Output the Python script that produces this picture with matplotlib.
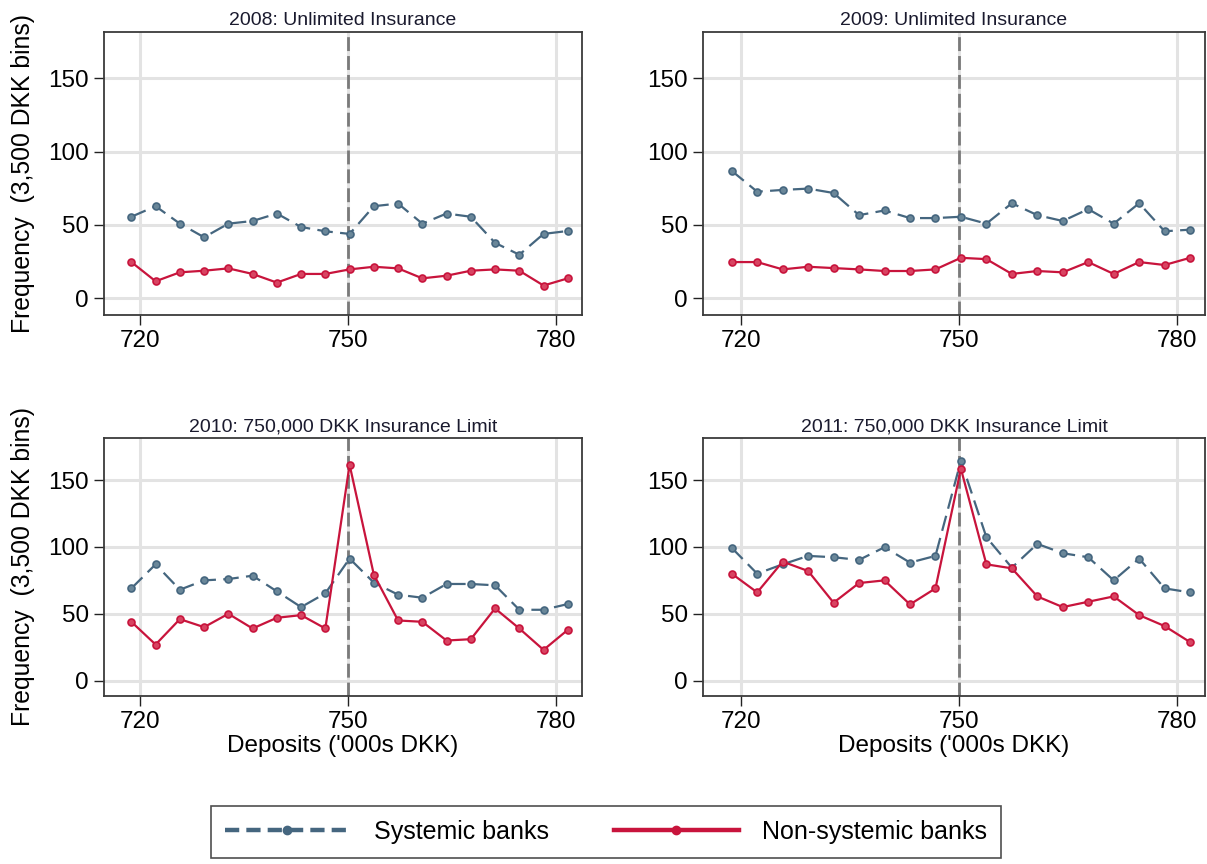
import numpy as np
import matplotlib.pyplot as plt
from matplotlib.lines import Line2D

plt.rcParams['font.family'] = ['Liberation Sans', 'DejaVu Sans']

# Bin midpoints ('000s DKK), 3,500 DKK wide bins
bins = [718.75, 722.25, 725.75, 729.25, 732.75, 736.25, 739.75, 743.25, 746.75,
        750.25, 753.75, 757.25, 760.75, 764.25, 767.75, 771.25, 774.75, 778.25, 781.75]

titles = ['2008: Unlimited Insurance', '2009: Unlimited Insurance',
          '2010: 750,000 DKK Insurance Limit', '2011: 750,000 DKK Insurance Limit']

sys_2008 = [55.5, 62.7, 50.8, 41.5, 50.8, 52.6, 57.7, 48.5, 45.6, 43.8,
            62.7, 64.5, 50.8, 57.7, 55.5, 37.7, 29.6, 43.8, 45.8]
non_2008 = [24.6, 11.5, 17.6, 18.7, 20.3, 16.5, 10.6, 16.5, 16.5, 19.6,
            21.4, 20.3, 13.5, 15.3, 18.7, 19.6, 18.7, 8.6, 13.5]

sys_2009 = [86.8, 72.6, 73.8, 74.7, 71.7, 56.6, 59.8, 54.6, 54.6, 55.5,
            50.8, 64.7, 56.6, 52.6, 60.7, 50.8, 64.7, 45.6, 46.7]
non_2009 = [24.6, 24.6, 19.6, 21.4, 20.5, 19.6, 18.5, 18.5, 19.6, 27.5,
            26.6, 16.5, 18.5, 17.6, 24.6, 16.5, 24.6, 22.6, 27.5]

sys_2010 = [69, 87, 68, 75, 76, 78.5, 66.8, 55, 65.3, 91.3,
            73.3, 64.3, 62, 72.3, 72.3, 71.3, 53, 53, 57.3]
non_2010 = [44, 27, 46, 40, 50, 39, 47, 49, 39, 161.5,
            79.3, 45, 44, 30, 31, 54, 39, 23, 38]

sys_2011 = [99.3, 80, 87, 93.3, 92.3, 90.3, 99.8, 88.3, 93.3, 164.5,
            107.3, 84.5, 102.3, 95.3, 92.3, 75, 91.3, 69, 66]
non_2011 = [80, 66, 89, 82, 58.3, 73, 75, 57, 69, 158.5,
            87, 84, 63, 55, 59, 63, 49, 40.8, 28.8]

systemic = [sys_2008, sys_2009, sys_2010, sys_2011]
nonsystemic = [non_2008, non_2009, non_2010, non_2011]

blue = '#45667f'
red = '#c8143c'
grid_c = '#e3e3e3'

fig = plt.figure(figsize=(12.07, 8.64), dpi=100)
W, H = 1207, 864
# panel boxes in pixels: left, right, top, bottom
boxes = [(104, 582, 32, 315), (703, 1205, 32, 315),
         (104, 582, 438, 696), (703, 1205, 438, 696)]

for i, (l, r, t, b) in enumerate(boxes):
    ax = fig.add_axes([l / W, 1 - b / H, (r - l) / W, (b - t) / H])
    ax.set_xlim(714.8, 783.8)
    ax.set_ylim(-11.5, 181.5)
    ax.set_xticks([720, 750, 780])
    ax.set_yticks([0, 50, 100, 150])
    ax.grid(True, color=grid_c, lw=2.2)
    ax.set_axisbelow(True)
    ax.axvline(750, color='#7a7a7a', lw=2.0, ls=(0, (5, 1.8)), zorder=1.5)
    ax.plot(bins, systemic[i], color=blue, lw=1.6, ls=(0, (7, 3.3)),
            marker='o', ms=5, mfc='#6a8799', mec=blue, mew=1.2, zorder=3)
    ax.plot(bins, nonsystemic[i], color=red, lw=1.6, ls='-',
            marker='o', ms=5, mfc='#d84462', mec=red, mew=1.2, zorder=4)
    ax.set_title(titles[i], fontsize=14, color='#1a1a2e', pad=5)
    ax.tick_params(axis='both', direction='out', length=7, width=1,
                   labelsize=17.5, pad=4, color='#222222')
    for s in ax.spines.values():
        s.set_color('#3a3a3a')
        s.set_linewidth(1.3)
    if i % 2 == 0:
        ax.set_ylabel('Frequency  (3,500 DKK bins)', fontsize=17.8, labelpad=9)
    if i >= 2:
        ax.set_xlabel("Deposits ('000s DKK)", fontsize=17.5, labelpad=1)

handles = [
    Line2D([], [], color=blue, lw=3.2, ls=(0, (3.2, 1.6)), marker='o', ms=6,
           mfc=blue, mec=blue),
    Line2D([], [], color=red, lw=3.2, ls='-', marker='o', ms=6,
           mfc=red, mec=red),
]
leg = fig.legend(handles, ['Systemic banks', 'Non-systemic banks'],
                 loc='center', bbox_to_anchor=(606 / W, 1 - 832 / H), ncol=2,
                 fontsize=18, frameon=True, fancybox=False, edgecolor='#222222',
                 handlelength=5.0, handletextpad=0.95, columnspacing=2.6,
                 borderpad=0.55, borderaxespad=0)
leg.get_frame().set_linewidth(1.2)

fig.savefig('out.png', dpi=100)
